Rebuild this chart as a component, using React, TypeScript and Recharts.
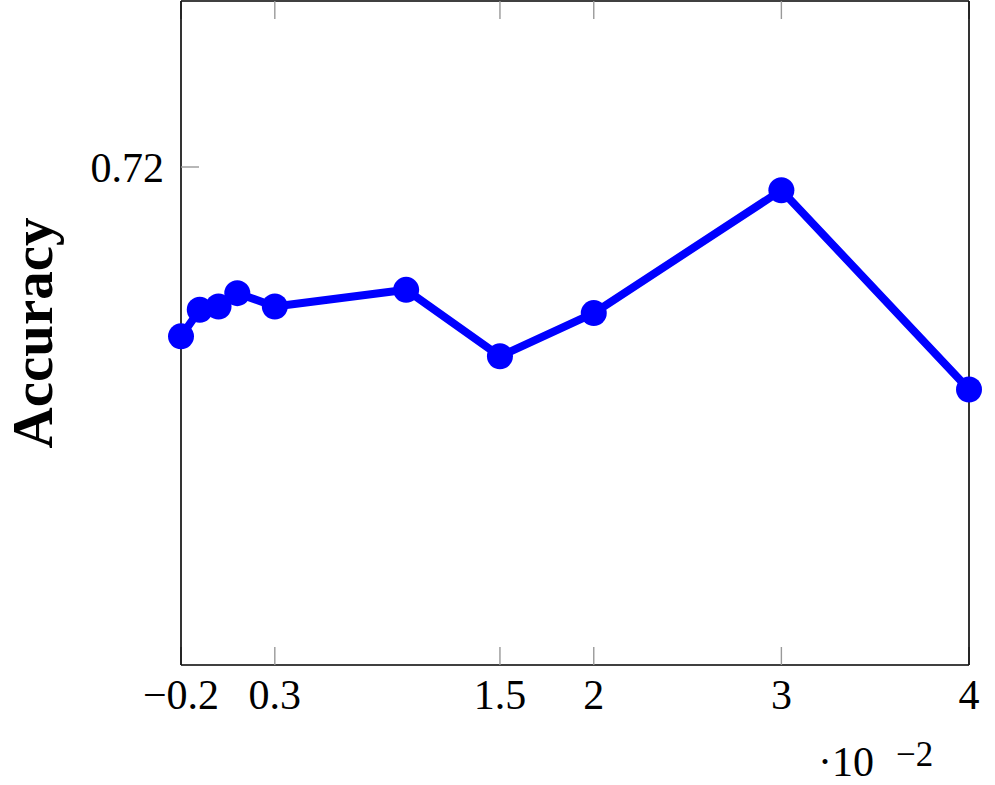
import React from 'react'
import { LineChart, Line, XAxis, YAxis, Label } from 'recharts'

// x in units of 10^-2
const xValues = [-0.2, -0.1, 0, 0.1, 0.3, 1, 1.5, 2, 3, 4]
const accuracy = [0.7149, 0.7157, 0.7158, 0.7162, 0.7158, 0.7163, 0.7143, 0.7156, 0.7193, 0.7133]
const xTicks = [-0.2, 0.3, 1.5, 2, 3, 4]
const yTicks = [0.72]

const data = xValues.map((x, i) => ({ x, acc: accuracy[i] }))

const FONT = '"Liberation Serif", "DejaVu Serif", serif'
const fmtX = (v: number) => (v < 0 ? '\u2212' + Math.abs(v) : String(v))
const noTick = () => <g />

const App = () => {
  return (
    <div style={{ position: 'absolute', left: 0, top: 0, width: 995, height: 785, background: '#fff' }}>
      <LineChart
        width={995}
        height={785}
        data={data}
        margin={{ top: 0, right: 25, bottom: 119, left: 180 }}
      >
        <XAxis
          dataKey="x"
          type="number"
          domain={[-0.2, 4]}
          ticks={xTicks}
          height={1}
          tickFormatter={fmtX}
          tickSize={-18}
          tickMargin={32}
          axisLine={{ stroke: '#000', strokeWidth: 1.6 }}
          tickLine={{ stroke: '#999', strokeWidth: 1.4 }}
          tick={{ fill: '#000', fontSize: 42, fontFamily: FONT }}
        />
        <XAxis
          xAxisId="top"
          dataKey="x"
          type="number"
          orientation="top"
          domain={[-0.2, 4]}
          ticks={xTicks}
          height={1}
          tickSize={-18}
          axisLine={{ stroke: '#000', strokeWidth: 1.6 }}
          tickLine={{ stroke: '#999', strokeWidth: 1.4 }}
          tick={noTick}
        />
        <YAxis
          type="number"
          domain={[0.705, 0.725]}
          ticks={yTicks}
          width={1}
          tickSize={-18}
          tickMargin={35}
          axisLine={{ stroke: '#000', strokeWidth: 1.6 }}
          tickLine={{ stroke: '#999', strokeWidth: 1.4 }}
          tick={{ fill: '#000', fontSize: 42, fontFamily: FONT }}
        >
          <Label
            content={({ viewBox }: any) => {
              const cy = viewBox.y + viewBox.height / 2
              return (
                <text
                  x={52}
                  y={cy}
                  transform={`rotate(-90, 52, ${cy})`}
                  textAnchor="middle"
                  fontFamily={FONT}
                  fontWeight="bold"
                  fontSize={57}
                  fill="#000"
                >
                  Accuracy
                </text>
              )
            }}
          />
        </YAxis>
        <YAxis
          yAxisId="right"
          orientation="right"
          type="number"
          domain={[0.705, 0.725]}
          ticks={yTicks}
          width={1}
          tickSize={-18}
          axisLine={{ stroke: '#000', strokeWidth: 1.6 }}
          tickLine={{ stroke: '#999', strokeWidth: 1.4 }}
          tick={noTick}
        />
        <Line
          dataKey="acc"
          stroke="#0000ff"
          strokeWidth={8}
          strokeLinejoin="round"
          dot={{ r: 13, fill: '#0000ff', stroke: 'none' }}
          activeDot={false}
          isAnimationActive={false}
        />
      </LineChart>
      <div style={{ position: 'absolute', left: 818, top: 741, fontFamily: FONT, fontSize: 42, lineHeight: 1, color: '#000', whiteSpace: 'nowrap' }}>
        ·10
      </div>
      <div style={{ position: 'absolute', left: 896, top: 737, fontFamily: FONT, fontSize: 35, lineHeight: 1, color: '#000', whiteSpace: 'nowrap' }}>
        {'\u2212'}2
      </div>
    </div>
  )
}

export default App
